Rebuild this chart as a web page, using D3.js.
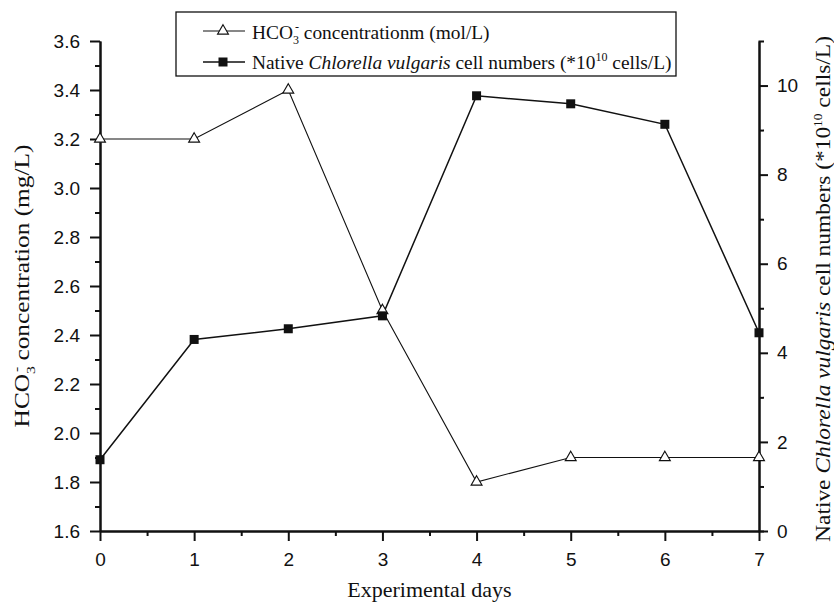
<!DOCTYPE html>
<html>
<head>
<meta charset="utf-8">
<script src="https://cdn.jsdelivr.net/npm/d3@7"></script>
<style>
  body { margin: 0; background: #fff; }
  svg { display: block; }
  .tick text { font-family: "Liberation Sans", Arial, sans-serif; font-size: 19px; fill: #111; }
  .serif { font-family: "Liberation Serif", "Times New Roman", serif; fill: #111; }
</style>
</head>
<body>
<svg id="chart"></svg>
<script>
// chart data
const days = [0, 1, 2, 3, 4, 5, 6, 7]
const hco3 = [3.2, 3.2, 3.4, 2.5, 1.8, 1.9, 1.9, 1.9]
const cells = [1.6, 4.3, 4.54, 4.83, 9.77, 9.59, 9.13, 4.45]
const leftTicks = [1.6, 1.8, 2.0, 2.2, 2.4, 2.6, 2.8, 3.0, 3.2, 3.4, 3.6]
const rightTicks = [0, 2, 4, 6, 8, 10]

class DualAxisChart {
    constructor() {
        this.visWidth = 834
        this.visHeight = 604
        this.margins = {left: 100, right: 75, top: 41, bottom: 73}

        this.scaleX = d3.scaleLinear().domain([0, 7]).range([this.margins.left, this.visWidth - this.margins.right])
        this.scaleYL = d3.scaleLinear().domain([1.6, 3.6]).range([this.visHeight - this.margins.bottom, this.margins.top])
        this.scaleYR = d3.scaleLinear().domain([0, 11]).range([this.visHeight - this.margins.bottom, this.margins.top])

        this.svg = d3.select("#chart").attr("width", this.visWidth).attr("height", this.visHeight)

        this.drawAxis()
        this.drawAxisLabels()
        this.drawSeries()
        this.drawLegend()
    }

    drawAxis() {
        let bottom = this.visHeight - this.margins.bottom
        let right = this.visWidth - this.margins.right

        // minor ticks first
        this.svg.append("g").attr("transform", `translate(${this.margins.left},0)`)
            .call(d3.axisLeft(this.scaleYL).tickValues(d3.range(1.7, 3.6, 0.2)).tickSize(5).tickSizeOuter(0).tickFormat(""))
        this.svg.append("g").attr("transform", `translate(${right},0)`)
            .call(d3.axisRight(this.scaleYR).tickValues(d3.range(1, 11, 2)).tickSize(5).tickSizeOuter(0).tickFormat(""))
        this.svg.append("g").attr("transform", `translate(0,${bottom})`)
            .call(d3.axisBottom(this.scaleX).tickValues(d3.range(0.5, 7, 1)).tickSize(5).tickSizeOuter(0).tickFormat(""))

        this.svg.append("g").attr("transform", `translate(${this.margins.left},0)`)
            .call(d3.axisLeft(this.scaleYL).tickValues(leftTicks).tickSize(10).tickSizeOuter(0).tickPadding(10).tickFormat(d3.format(".1f")))
        this.svg.append("g").attr("transform", `translate(${right},0)`)
            .call(d3.axisRight(this.scaleYR).tickValues(rightTicks).tickSize(9).tickSizeOuter(5).tickPadding(9).tickFormat(d3.format("d")))
        this.svg.append("g").attr("transform", `translate(0,${bottom})`)
            .call(d3.axisBottom(this.scaleX).tickValues(days).tickSize(10).tickSizeOuter(0).tickPadding(12).tickFormat(d3.format("d")))

        this.svg.selectAll(".domain").attr("stroke", "#111").attr("stroke-width", 2)
        this.svg.selectAll(".tick line").attr("stroke", "#111").attr("stroke-width", 2)
    }

    // rotated titles are stretched along the baseline, like the source figure
    stretchRotated(text, x, y, len) {
        let w = text.node().getBBox().width
        text.attr("transform", `translate(${x},${y}) rotate(-90) scale(${len / w},1)`)
    }

    drawAxisLabels() {
        this.svg.append("text").attr("class", "serif")
            .attr("x", (this.margins.left + this.visWidth - this.margins.right) / 2)
            .attr("y", 597)
            .attr("text-anchor", "middle")
            .attr("font-size", 22)
            .text("Experimental days")

        let left = this.svg.append("text").attr("class", "serif")
            .attr("text-anchor", "middle")
            .attr("font-size", 21)
        left.append("tspan").text("HCO")
        left.append("tspan").attr("font-size", 13).attr("dy", 6).text("3")
        left.append("tspan").attr("font-size", 13).attr("dx", -5).attr("dy", -15).text("-")
        left.append("tspan").attr("dy", 9).text(" concentration (mg/L)")
        this.stretchRotated(left, 29, 286, 283)

        let right = this.svg.append("text").attr("class", "serif")
            .attr("text-anchor", "middle")
            .attr("font-size", 21)
        right.append("tspan").text("Native ")
        right.append("tspan").attr("font-style", "italic").text("Chlorella vulgaris")
        right.append("tspan").text(" cell numbers (*10")
        right.append("tspan").attr("font-size", 12).attr("dy", -8).text("10")
        right.append("tspan").attr("dy", 8).text(" cells/L)")
        this.stretchRotated(right, 830, 289, 506)
    }

    drawSeries() {
        let hcoData = days.map((d, i) => ({day: d, value: hco3[i]}))
        let cellData = days.map((d, i) => ({day: d, value: cells[i]}))

        let hcoLine = d3.line().x(d => this.scaleX(d.day)).y(d => this.scaleYL(d.value))
        let cellLine = d3.line().x(d => this.scaleX(d.day)).y(d => this.scaleYR(d.value))

        this.svg.append("path").datum(hcoData)
            .attr("d", hcoLine).attr("fill", "none").attr("stroke", "#111").attr("stroke-width", 1.1)
        this.svg.append("path").datum(cellData)
            .attr("d", cellLine).attr("fill", "none").attr("stroke", "#111").attr("stroke-width", 1.5)

        this.svg.append("g").selectAll("path")
            .data(hcoData)
            .join("path")
            .attr("d", d3.symbol(d3.symbolTriangle, 52))
            .attr("transform", d => `translate(${this.scaleX(d.day)},${this.scaleYL(d.value)})`)
            .attr("fill", "#fff").attr("stroke", "#111").attr("stroke-width", 1.1)

        this.svg.append("g").selectAll("rect")
            .data(cellData)
            .join("rect")
            .attr("x", d => this.scaleX(d.day) - 4.5)
            .attr("y", d => this.scaleYR(d.value) - 4.5)
            .attr("width", 9).attr("height", 9)
            .attr("fill", "#111")
    }

    drawLegend() {
        let lg = this.svg.append("g")
        lg.append("rect").attr("x", 176).attr("y", 12).attr("width", 500).attr("height", 64)
            .attr("fill", "#fff").attr("stroke", "#111").attr("stroke-width", 1.3)

        // row 1
        lg.append("line").attr("x1", 203).attr("x2", 245).attr("y1", 31).attr("y2", 31).attr("stroke", "#111").attr("stroke-width", 1.1)
        lg.append("path").attr("d", d3.symbol(d3.symbolTriangle, 52)).attr("transform", "translate(223,31)")
            .attr("fill", "#fff").attr("stroke", "#111").attr("stroke-width", 1.1)
        let t1 = lg.append("text").attr("class", "serif").attr("x", 252).attr("y", 39).attr("font-size", 19.4)
        t1.append("tspan").text("HCO")
        t1.append("tspan").attr("font-size", 12).attr("dy", 5).text("3")
        t1.append("tspan").attr("font-size", 12).attr("dx", -4).attr("dy", -13).text("-")
        t1.append("tspan").attr("dy", 8).text(" concentrationm (mol/L)")

        // row 2
        lg.append("line").attr("x1", 203).attr("x2", 245).attr("y1", 62).attr("y2", 62).attr("stroke", "#111").attr("stroke-width", 1.5)
        lg.append("rect").attr("x", 218.5).attr("y", 57.5).attr("width", 9).attr("height", 9).attr("fill", "#111")
        let t2 = lg.append("text").attr("class", "serif").attr("x", 252).attr("y", 69).attr("font-size", 19.4)
        t2.append("tspan").text("Native ")
        t2.append("tspan").attr("font-style", "italic").text("Chlorella vulgaris")
        t2.append("tspan").text(" cell numbers (*10")
        t2.append("tspan").attr("font-size", 12).attr("dy", -8).text("10")
        t2.append("tspan").attr("dy", 8).text(" cells/L)")
    }
}

new DualAxisChart()
</script>
</body>
</html>
